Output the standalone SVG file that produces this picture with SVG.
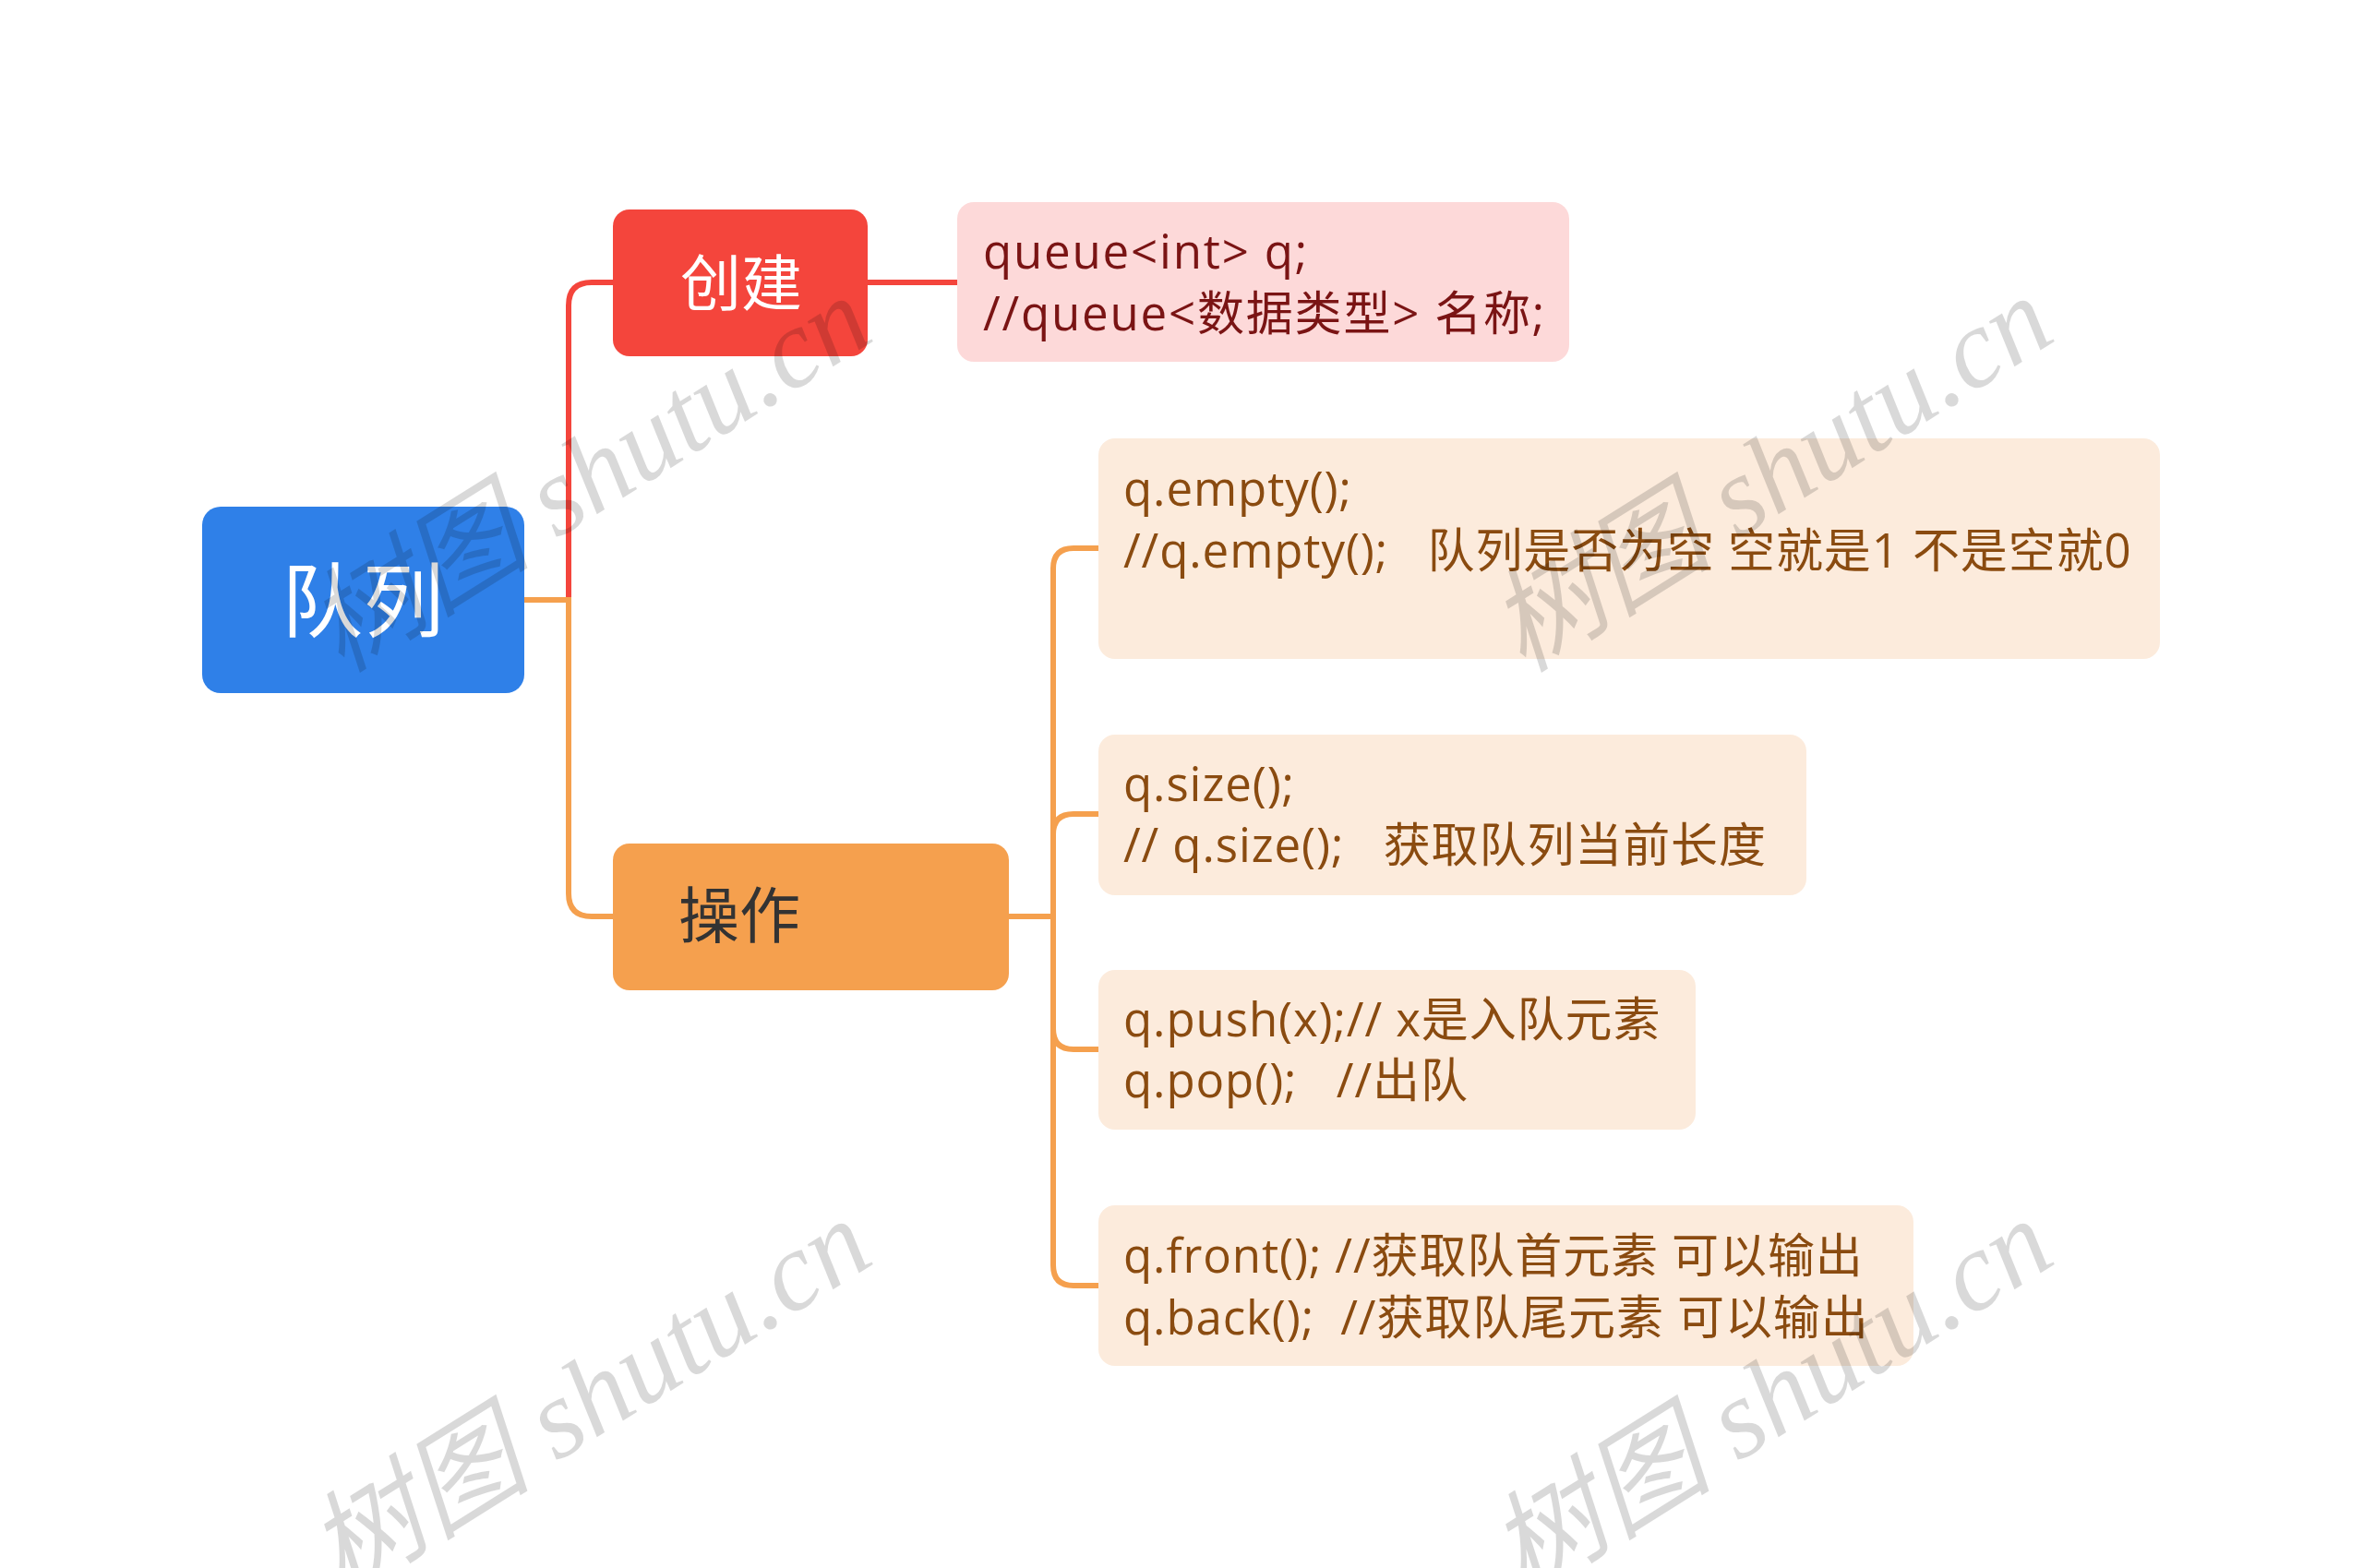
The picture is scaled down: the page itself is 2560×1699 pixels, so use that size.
<svg xmlns="http://www.w3.org/2000/svg" width="2560" height="1699" viewBox="0 0 2560 1699">
<style>
.lnk{fill:none;stroke-width:6;stroke-linecap:butt}
.red{stroke:#F4453C}
.org{stroke:#F5A04E}
.t{font-family:"Open Sans","Noto Sans CJK SC",sans-serif;white-space:pre}
.sub{font-size:51px;letter-spacing:1.8px}
.leaf{fill:#FCEBDC}
.leaftxt{fill:#8A4B10;letter-spacing:0.9px}
.wm{font-family:"Liberation Serif","Noto Sans CJK SC",serif;font-style:italic;font-size:122px;fill:#000;fill-opacity:0.15}
</style>
<rect width="2560" height="1699" fill="#FFFFFF"/>
<g id="connectors">
<path class="lnk red" d="M567 650 H616 V331 Q616 306 641 306 H665"/>
<path class="lnk red" d="M940 306 H1037"/>
<path class="lnk org" d="M567 650 H616 V968 Q616 993 641 993 H665"/>
<path class="lnk org" d="M1093 993 H1141 V616 Q1141 594 1163 594 H1190"/>
<path class="lnk org" d="M1093 993 H1141 V904 Q1141 882 1163 882 H1190"/>
<path class="lnk org" d="M1093 993 H1141 V1115 Q1141 1137 1163 1137 H1190"/>
<path class="lnk org" d="M1093 993 H1141 V1371 Q1141 1393 1163 1393 H1190"/>
</g>
<g id="root">
<rect x="219" y="549" width="349" height="202" rx="20" fill="#2F80E8"/>
<text class="t" x="393" y="683" font-size="88" fill="#FFFFFF" text-anchor="middle">队列</text>
</g>
<g id="create">
<rect x="664" y="227" width="276" height="159" rx="18" fill="#F4453C"/>
<text class="t" x="803" y="331" font-size="66" fill="#FFFFFF" text-anchor="middle">创建</text>
</g>
<g id="create-detail">
<rect x="1037" y="219" width="663" height="173" rx="18" fill="#FDD9D9"/>
<text class="t sub" fill="#7A1414"><tspan x="1065" y="291">queue&lt;int&gt; q;</tspan><tspan x="1065" y="358">//queue&lt;数据类型&gt; 名称;</tspan></text>
</g>
<g id="ops">
<rect x="664" y="914" width="429" height="159" rx="18" fill="#F5A04E"/>
<text class="t" x="735" y="1016" font-size="66" fill="#333333">操作</text>
</g>
<g id="op-empty">
<rect class="leaf" x="1190" y="475" width="1150" height="239" rx="18"/>
<text class="t sub leaftxt"><tspan x="1217" y="548">q.empty();</tspan><tspan x="1217" y="615">//q.empty();   队列是否为空 空就是1 不是空就0</tspan></text>
</g>
<g id="op-size">
<rect class="leaf" x="1190" y="796" width="767" height="174" rx="18"/>
<text class="t sub leaftxt"><tspan x="1217" y="868">q.size();</tspan><tspan x="1217" y="934">// q.size();   获取队列当前长度</tspan></text>
</g>
<g id="op-push">
<rect class="leaf" x="1190" y="1051" width="647" height="173" rx="18"/>
<text class="t sub leaftxt"><tspan x="1217" y="1123">q.push(x);// x是入队元素</tspan><tspan x="1217" y="1189">q.pop();   //出队</tspan></text>
</g>
<g id="op-front">
<rect class="leaf" x="1190" y="1306" width="883" height="174" rx="18"/>
<text class="t sub leaftxt"><tspan x="1217" y="1379">q.front(); //获取队首元素 可以输出</tspan><tspan x="1217" y="1446">q.back();  //获取队尾元素 可以输出</tspan></text>
</g>
<g id="watermarks">
<text class="wm" transform="translate(370 730) rotate(-32)">树图 shutu.cn</text>
<text class="wm" transform="translate(1650 730) rotate(-32)">树图 shutu.cn</text>
<text class="wm" transform="translate(370 1730) rotate(-32)">树图 shutu.cn</text>
<text class="wm" transform="translate(1650 1730) rotate(-32)">树图 shutu.cn</text>
</g>
</svg>
